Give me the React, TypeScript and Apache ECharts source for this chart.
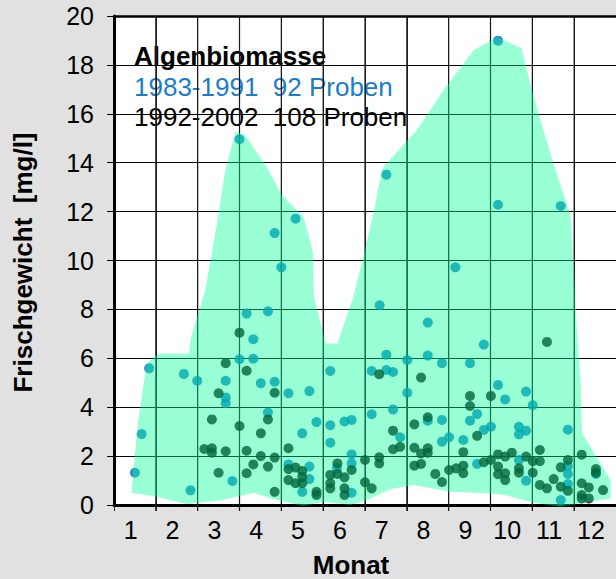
import { useEffect, useRef } from "react";
import * as echarts from "echarts";

const FONT = "'Liberation Sans', Arial, Helvetica, sans-serif";

const monthLabels = [1, 2, 3, 4, 5, 6, 7, 8, 9, 10, 11, 12];
const monthGridLines = [1.6, 2.6, 3.6, 4.6, 5.6, 6.6, 7.6, 8.6, 9.6, 10.6, 11.6];
const gridBottom = -0.25;
const gridTop = 20;

const titleText = "Algenbiomasse";
const series1Label = "1983-1991  92 Proben";
const series2Label = "1992-2002  108 Proben";
const xTitle = "Monat";
const yTitle = "Frischgewicht  [mg/l]";

// 1983-1991 samples (month, fresh weight mg/l)
const oldX = [
  1.44, 2.27, 2.59, 3.6, 3.27, 3.27, 3.27, 1.26, 1.1, 3.43, 2.43, 3.93, 3.93, 4.11, 4.44, 4.77,
  5.27, 5.77, 6.76, 4.28, 5.44, 5.77, 6.11, 6.28, 6.76, 5.1, 5.77, 4.77, 5.27, 5.27, 5.1, 6.28,
  6.28, 6.28, 8.1, 9.44, 7.11, 7.61, 8.1, 8.44, 9.11, 7.11, 7.27, 7.61, 9.78, 9.95, 7.27, 8.1,
  8.44, 9.28, 9.11, 9.44, 9.61, 7.44, 8.61, 8.44, 8.95, 9.28, 10.45, 10.61, 10.28, 10.45, 10.28,
  11.45, 10.28, 10.45, 11.45, 11.45, 12.12, 11.28, 4.94, 4.44, 4.6, 3.77, 4.28, 9.78, 11.28,
  8.76, 6.95, 3.6, 9.78, 7.11, 5.93, 11.45,
];
const oldY = [
  5.59, 5.36, 5.08, 5.96, 5.08, 4.4, 4.16, 2.9, 1.32, 0.98, 0.6, 6.78, 5.98, 4.98, 5.04, 4.57,
  4.66, 5.48, 5.48, 3.78, 3.39, 3.26, 3.42, 3.48, 3.71, 2.93, 2.55, 1.66, 1.57, 1.06, 0.54, 2.07,
  1.7, 0.5, 7.46, 6.56, 6.15, 5.93, 6.11, 5.8, 5.8, 5.52, 5.44, 4.59, 4.91, 4.32, 3.91, 3.45,
  3.48, 3.72, 3.45, 3.07, 3.2, 2.77, 2.77, 2.59, 2.66, 1.68, 4.64, 4.08, 3.2, 3.04, 2.89,
  3.08, 1.84, 0.99, 1.27, 0.86, 1.27, 0.2, 11.71, 11.12, 9.72, 7.83, 7.92, 12.28, 12.23,
  9.72, 8.17, 14.96, 18.99, 13.51, 1.5, 1.6,
];

// 1992-2002 samples
const newX = [
  3.6, 3.27, 3.77, 3.1, 2.94, 3.6, 2.76, 2.94, 2.94, 3.27, 3.1, 4.44, 4.28, 4.11, 4.77, 3.77,
  4.11, 4.44, 3.93, 4.28, 3.77, 4.44, 4.77, 4.94, 5.1, 4.77, 4.94, 5.1, 5.1, 5.44, 5.44, 5.77,
  5.94, 5.94, 6.11, 5.77, 5.77, 6.11, 6.11, 6.28, 6.6, 6.6, 6.76, 6.94, 7.94, 9.11, 9.11, 9.61,
  8.1, 7.78, 7.27, 9.28, 7.27, 7.44, 7.78, 8.1, 7.94, 8.1, 8.95, 6.94, 6.94, 7.78, 7.94, 8.61,
  8.78, 8.95, 8.95, 8.28, 8.44, 9.44, 9.61, 9.78, 9.78, 9.78, 10.95, 10.78, 10.11, 9.95, 10.45,
  10.61, 10.78, 10.28, 10.28, 10.61, 9.95, 9.95, 11.45, 11.28, 11.78, 12.12, 12.12, 11.11, 10.78,
  10.95, 11.28, 11.45, 11.78, 11.95, 11.78, 11.95, 11.78, 12.29,
];
const newY = [
  7.05, 5.8, 5.49, 4.57, 3.5, 3.23, 2.29, 2.32, 2.14, 2.2, 1.32, 4.59, 3.5, 2.93, 2.32, 2.22,
  2.0, 1.94, 1.66, 1.57, 1.3, 0.54, 1.47, 1.53, 1.39, 1.02, 0.89, 1.15, 0.89, 0.54, 0.41, 1.23,
  1.7, 1.27, 1.13, 0.89, 0.68, 0.68, 0.41, 1.43, 1.84, 0.93, 0.68, 5.35, 5.21, 4.46, 4.05, 4.46,
  3.59, 3.3, 3.04, 2.83, 2.28, 2.38, 2.34, 2.32, 2.11, 2.14, 2.16, 1.95, 1.7, 1.61, 1.68, 1.43,
  1.5, 1.61, 1.3, 1.27, 0.94, 1.75, 1.84, 2.07, 1.57, 1.26, 6.67, 2.25, 2.14, 1.98, 1.98,
  1.79, 1.79, 1.5, 1.32, 1.32, 1.3, 1.02, 1.84, 1.54, 2.06, 1.47, 1.32, 1.06, 0.82,
  0.68, 0.75, 0.58, 0.89, 0.72, 0.41, 0.27, 0.27, 0.61,
];

// envelope polygon (month, mg/l)
const envX = [
  1.02, 1.1, 1.18, 1.3, 1.38, 1.68, 2.39, 2.45, 2.78, 3.1, 3.25, 3.5, 3.73, 4.25, 4.61, 5.13,
  5.35, 5.38, 5.66, 5.94, 6.32, 6.56, 6.8, 6.96, 7.02, 7.84, 8.48, 9.2, 9.76, 10.34, 10.63,
  11.08, 11.51, 11.58, 11.65, 11.75, 11.79, 12.47, 12.47, 11.83, 11.27, 10.63, 9.95, 9.52,
  8.64, 7.76, 7.2, 6.65, 6.25, 5.61, 5.13, 4.49, 3.93, 3.21, 2.34, 1.62,
];
const envY = [
  0.5, 2.11, 3.48, 4.84, 5.8, 6.2, 6.2, 6.9, 8.78, 11.9, 13.6, 15.27, 15.13, 13.84, 12.68, 11.79,
  10.36, 8.52, 6.61, 6.61, 8.52, 10.15, 11.93, 13.29, 13.78, 15.34, 16.97, 18.61, 19.13, 18.68, 16.7,
  14.1, 11.86, 10.02, 7.57, 5.11, 2.93, 1.02, 0.27, 0.09, -0.07, 0.09, 0.41, 0.48,
  0.54, 0.82, 0.64, 0.2, 0.0, 0.13, -0.04, 0.2, 0.5, 0.2, 0.04, 0.34,
];

export default function App() {
  const ref = useRef<HTMLDivElement>(null);

  useEffect(() => {
    const chart = echarts.init(ref.current!, null, { renderer: "svg" });
    chart.setOption({
      animation: false,
      backgroundColor: "#e1e1e1",
      textStyle: { fontFamily: FONT },
      grid: {
        left: 114,
        right: 0,
        top: 16,
        bottom: 74,
        show: true,
        backgroundColor: "#fff",
        borderWidth: 0,
      },
      xAxis: [
        {
          type: "value",
          min: 0.6,
          max: 12.6,
          interval: 1,
          position: "bottom",
          axisLine: { show: true, onZero: false, lineStyle: { color: "#000", width: 3 } },
          axisTick: { show: true, length: 6, lineStyle: { color: "#202020", width: 1 } },
          axisLabel: { show: true, customValues: monthLabels, fontSize: 25, color: "#000", margin: 12 },
          splitLine: { show: true, lineStyle: { color: "#202020", width: 1 } },
        },
        {
          type: "value",
          min: 0.6,
          max: 12.6,
          interval: 1,
          position: "top",
          axisLine: { show: true, onZero: false, lineStyle: { color: "#000", width: 2.5 } },
          axisTick: { show: false },
          axisLabel: { show: false },
          splitLine: { show: false },
        },
      ],
      yAxis: {
        type: "value",
        min: 0,
        max: 20,
        interval: 2,
        axisLine: { show: true, lineStyle: { color: "#000", width: 3 } },
        axisTick: { show: true, length: 7, lineStyle: { color: "#000", width: 1 } },
        axisLabel: { fontSize: 25, color: "#000", margin: 20 },
        splitLine: { show: true, lineStyle: { color: "#000", width: 1 } },
      },
      series: [
        ...monthGridLines.map((v) => ({
          type: "line",
          data: [
            [v, gridBottom],
            [v, gridTop],
          ],
          clip: false,
          silent: true,
          symbol: "none",
          lineStyle: { color: "#1a1a1a", width: 1.2 },
          z: 1,
        })),
        {
          type: "scatter",
          data: oldX.map((x, i) => [x, oldY[i]]),
          symbolSize: 10,
          itemStyle: { color: "#0070c0" },
        },
        {
          type: "scatter",
          data: newX.map((x, i) => [x, newY[i]]),
          symbolSize: 10,
          itemStyle: { color: "#000000" },
        },
        {
          type: "custom",
          silent: true,
          clip: false,
          z: 4,
          data: [[envX[0], envY[0]]],
          renderItem: (_params: any, api: any) => ({
            type: "polygon",
            shape: { points: envX.map((x, i) => api.coord([x, envY[i]])) },
            style: { fill: "rgba(0,255,150,0.4)" },
          }),
        },
      ],
      graphic: [
        {
          type: "text",
          x: 134,
          y: 55.5,
          style: { text: titleText, fontSize: 26, fontWeight: "bold", fill: "#000", verticalAlign: "middle" },
        },
        {
          type: "text",
          x: 134,
          y: 86.5,
          style: { text: series1Label, fontSize: 26, fill: "#1a7dcb", verticalAlign: "middle" },
        },
        {
          type: "text",
          x: 134,
          y: 117.2,
          style: { text: series2Label, fontSize: 26, fill: "#000", verticalAlign: "middle" },
        },
        {
          type: "text",
          x: 351,
          y: 565,
          style: {
            text: xTitle,
            fontSize: 26,
            lineHeight: 26,
            fontWeight: "bold",
            fill: "#000",
            align: "center",
            verticalAlign: "middle",
          },
        },
        {
          type: "text",
          x: 22.5,
          y: 262.5,
          rotation: Math.PI / 2,
          style: {
            text: yTitle,
            fontSize: 26,
            fontWeight: "bold",
            fill: "#000",
            align: "center",
            verticalAlign: "middle",
          },
        },
      ],
    });
    return () => chart.dispose();
  }, []);

  return <div ref={ref} style={{ position: "fixed", left: 0, top: 0, width: 616, height: 579 }} />;
}
